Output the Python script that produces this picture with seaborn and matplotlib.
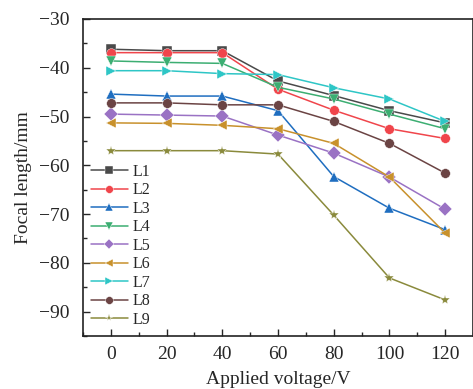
import matplotlib
matplotlib.use("Agg")
import matplotlib.pyplot as plt
import seaborn as sns
import pandas as pd
from matplotlib.ticker import MultipleLocator

voltage = [0, 20, 40, 60, 80, 100, 120]
L1 = [-36.2, -36.5, -36.5, -42.7, -45.7, -48.8, -51.3]
L2 = [-36.9, -36.9, -36.9, -44.4, -48.7, -52.5, -54.5]
L3 = [-45.4, -45.8, -45.8, -48.8, -62.3, -68.8, -73.2]
L4 = [-38.6, -38.9, -39.1, -44.0, -46.4, -49.5, -52.5]
L5 = [-49.5, -49.7, -49.9, -53.8, -57.5, -62.4, -69.0]
L6 = [-51.3, -51.4, -51.8, -52.5, -55.5, -62.4, -73.9]
L7 = [-40.6, -40.6, -41.2, -41.4, -44.1, -46.4, -51.0]
L8 = [-47.2, -47.2, -47.6, -47.6, -51.0, -55.5, -61.6]
L9 = [-57.0, -57.0, -57.0, -57.7, -70.2, -83.1, -87.6]
names = ["L1", "L2", "L3", "L4", "L5", "L6", "L7", "L8", "L9"]
series = [L1, L2, L3, L4, L5, L6, L7, L8, L9]

colors = ["#4a4a4a", "#f0454b", "#1f6ec0", "#3cae72", "#9a72c4",
          "#c8912c", "#2ec6c6", "#6b4444", "#8a8a3c"]
markers = ["s", "o", "^", "v", "D", "<", ">", "o", "*"]

rows = []
for n, s in zip(names, series):
    for v, y in zip(voltage, s):
        rows.append({"Voltage": v, "Focal": y, "Line": n})
df = pd.DataFrame(rows)

sns.set_style("ticks")
plt.rcParams["font.family"] = ["Liberation Serif", "DejaVu Serif"]
plt.rcParams["mathtext.fontset"] = "stix"

fig = plt.figure(figsize=(4.73, 3.89), dpi=100)
ax = fig.add_axes([83/473, 1 - 336/389, (473 - 83)/473, (336 - 19)/389])

sns.lineplot(data=df, x="Voltage", y="Focal", hue="Line", style="Line",
             palette=dict(zip(names, colors)),
             markers=dict(zip(names, markers)), dashes=False,
             markersize=7, linewidth=1.1, markeredgewidth=0.3,
             ax=ax)

ax.set_xlim(-10, 130)
ax.set_ylim(-95, -30)
ax.set_xticks(voltage)
ax.xaxis.set_minor_locator(MultipleLocator(10))
ax.yaxis.set_major_locator(MultipleLocator(10))
ax.yaxis.set_minor_locator(MultipleLocator(5))
ax.tick_params(which="both", direction="in", labelsize=14, width=1)
ax.tick_params(which="major", length=5)
ax.tick_params(which="minor", length=3)
ax.tick_params(axis="y", which="major", pad=10)
ax.tick_params(axis="x", which="major", pad=7)
ax.set_xlabel("Applied voltage/V", fontsize=14, labelpad=6)
ax.set_ylabel("Focal length/mm", fontsize=14, labelpad=5)
for sp in ax.spines.values():
    sp.set_linewidth(1.2)
    sp.set_color("#222222")

leg = ax.legend(loc="lower left", bbox_to_anchor=(0.0, 0.0), frameon=False,
                fontsize=11.5, handlelength=2.3, handletextpad=0.3,
                labelspacing=0.16, borderaxespad=0.1, markerscale=0.8)
fig.savefig("out.png", dpi=100)
